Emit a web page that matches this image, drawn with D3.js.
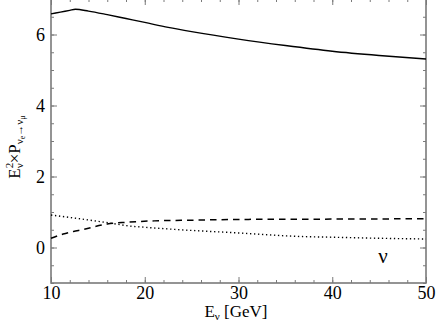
<!DOCTYPE html>
<html>
<head>
<meta charset="utf-8">
<script src="https://cdn.jsdelivr.net/npm/d3@7"></script>
<style>
  body { margin: 0; background: #fff; }
  text { font-family: "Liberation Serif", "DejaVu Serif", serif; }
</style>
</head>
<body>
<div id="chart"></div>
<script>
// data
const solidE = [10, 11, 12, 12.6, 14, 16, 18, 20, 22.5, 25, 30, 35, 40, 45, 50];
const solidP = [6.58, 6.63, 6.68, 6.71, 6.66, 6.56, 6.45, 6.34, 6.2, 6.08, 5.87, 5.69, 5.53, 5.41, 5.31];

const dashE = [10, 11.3, 12.4, 13.5, 14.7, 16, 18, 21, 25, 30, 40, 50];
const dashP = [0.26, 0.38, 0.45, 0.51, 0.59, 0.66, 0.71, 0.75, 0.77, 0.79, 0.80, 0.81];

const dotE = [10, 13.6, 16.5, 18.2, 20, 23.2, 30, 36.6, 40, 45, 50];
const dotP = [0.915, 0.79, 0.68, 0.61, 0.57, 0.51, 0.41, 0.31, 0.29, 0.26, 0.24];

const xTicks = [10, 20, 30, 40, 50];
const yTicks = [0, 2, 4, 6];

const svgWidth = 436;
const svgHeight = 330;

const margin = { top: -1, right: 10, bottom: 47, left: 51 };
const width = svgWidth - margin.left - margin.right;
const height = svgHeight - margin.top - margin.bottom;

const serif = "'Liberation Serif', 'DejaVu Serif', serif";

const svg = d3.select("#chart")
  .append("svg")
  .attr("width", svgWidth)
  .attr("height", svgHeight);

const g = svg.append("g")
  .attr("transform", `translate(${margin.left}, ${margin.top})`);

const x = d3.scaleLinear().domain([10, 50]).range([0, width]);
const y = d3.scaleLinear().domain([-1, 7]).range([height, 0]);

const xMinor = d3.range(10, 50.01, 2);
const yMinor = d3.range(-1, 7.01, 0.5);

const frameColor = "#7a7a7a";

function styleAxis(sel) {
  sel.attr("font-family", serif).attr("font-size", 18);
  sel.select(".domain").remove();
  sel.selectAll(".tick line").attr("stroke", frameColor).attr("stroke-width", 1);
  sel.selectAll(".tick text").attr("fill", "#000");
}

// minor ticks, all four sides
g.append("g").attr("transform", `translate(0, ${height})`)
  .call(d3.axisBottom(x).tickValues(xMinor).tickSize(-3).tickFormat(""))
  .call(styleAxis);
g.append("g")
  .call(d3.axisTop(x).tickValues(xMinor).tickSize(-3).tickFormat(""))
  .call(styleAxis);
g.append("g")
  .call(d3.axisLeft(y).tickValues(yMinor).tickSize(-3).tickFormat(""))
  .call(styleAxis);
g.append("g").attr("transform", `translate(${width}, 0)`)
  .call(d3.axisRight(y).tickValues(yMinor).tickSize(-3).tickFormat(""))
  .call(styleAxis);

// major ticks
g.append("g").attr("transform", `translate(0, ${height})`)
  .call(d3.axisBottom(x).tickValues(xTicks).tickSize(-6).tickPadding(3).tickFormat(d3.format("d")))
  .call(styleAxis);
g.append("g")
  .call(d3.axisTop(x).tickValues(xTicks).tickSize(-6).tickFormat(""))
  .call(styleAxis);
g.append("g")
  .call(d3.axisLeft(y).tickValues(yTicks).tickSize(-6).tickPadding(6).tickFormat(d3.format("d")))
  .call(styleAxis);
g.append("g").attr("transform", `translate(${width}, 0)`)
  .call(d3.axisRight(y).tickValues(yTicks).tickSize(-6).tickFormat(""))
  .call(styleAxis);

// frame
g.append("rect")
  .attr("x", 0).attr("y", 0)
  .attr("width", width).attr("height", height)
  .attr("fill", "none")
  .attr("stroke", frameColor)
  .attr("stroke-width", 1.6);

const line = d3.line()
  .x(d => x(d[0]))
  .y(d => y(d[1]))
  .curve(d3.curveMonotoneX);

g.append("path")
  .datum(d3.zip(solidE, solidP))
  .attr("d", line)
  .attr("fill", "none")
  .attr("stroke", "#000")
  .attr("stroke-width", 1.4);

g.append("path")
  .datum(d3.zip(dashE, dashP))
  .attr("d", line)
  .attr("fill", "none")
  .attr("stroke", "#000")
  .attr("stroke-width", 1.5)
  .attr("stroke-dasharray", "6.5,5");

g.append("path")
  .datum(d3.zip(dotE, dotP))
  .attr("d", line)
  .attr("fill", "none")
  .attr("stroke", "#000")
  .attr("stroke-width", 1.4)
  .attr("stroke-dasharray", "1.3,2.7");

// nu label inside the plot
g.append("text")
  .attr("x", x(45.4))
  .attr("y", 263 - margin.top)
  .attr("text-anchor", "middle")
  .attr("font-family", serif)
  .style("font-size", "21px")
  .text("ν");

// x axis title
const xt = svg.append("text")
  .attr("x", 236)
  .attr("y", 317)
  .attr("text-anchor", "middle")
  .attr("font-family", serif)
  .style("font-size", "17px");
xt.append("tspan").text("E");
xt.append("tspan").attr("dy", 3).style("font-size", "11px").text("ν");
xt.append("tspan").attr("dy", -3).text(" [GeV]");

// y axis title
const yt = svg.append("text")
  .attr("transform", "rotate(-90)")
  .attr("x", -147)
  .attr("y", 20)
  .attr("text-anchor", "middle")
  .attr("font-family", serif)
  .style("font-size", "17px");
yt.append("tspan").text("E");
yt.append("tspan").attr("dy", -7).style("font-size", "11px").text("2");
yt.append("tspan").attr("dx", -5.5).attr("dy", 10).style("font-size", "11px").text("ν");
yt.append("tspan").attr("dy", -3).text("×P");
yt.append("tspan").attr("dy", 3).style("font-size", "11px").text("ν");
yt.append("tspan").attr("dy", 2).style("font-size", "8px").text("e");
yt.append("tspan").attr("dy", -2).style("font-size", "11px").text("→ν");
yt.append("tspan").attr("dy", 2).style("font-size", "8px").text("μ");
</script>
</body>
</html>
